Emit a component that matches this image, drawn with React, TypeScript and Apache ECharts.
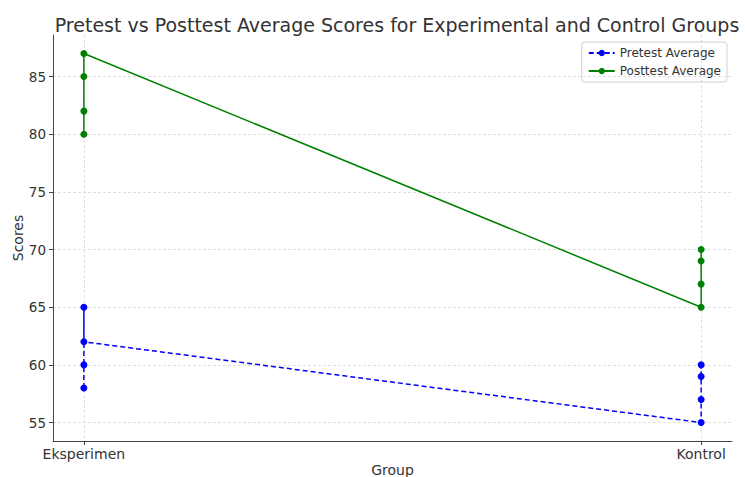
import React, { useEffect, useRef } from "react";
import * as echarts from "echarts";

const categories = ["Eksperimen", "Kontrol"];
const pretestEksperimen = [58, 60, 65, 62];
const pretestKontrol = [55, 57, 59, 60];
const posttestEksperimen = [80, 82, 85, 87];
const posttestKontrol = [65, 67, 69, 70];
const yTicks = [55, 60, 65, 70, 75, 80, 85];

const FONT = "DejaVu Sans";

function toPoints(groups: number[][]) {
  const pts: [number, number][] = [];
  groups.forEach((vals, gi) => vals.forEach((v) => pts.push([gi, v])));
  return pts;
}

export default function App() {
  const ref = useRef<HTMLDivElement>(null);
  useEffect(() => {
    if (!ref.current) return;
    const chart = echarts.init(ref.current, null, { renderer: "svg" });
    const gridLine = { show: true, lineStyle: { color: "#d8d8d8", type: [3, 2], width: 0.8 } };
    chart.setOption({
      animation: false,
      backgroundColor: "#ffffff",
      title: {
        text: "Pretest vs Posttest Average Scores for Experimental and Control Groups",
        left: 392,
        textAlign: "center",
        top: 10,
        textStyle: { fontFamily: FONT, fontSize: 19, fontWeight: "normal", color: "#333" },
      },
      legend: {
        orient: "vertical",
        right: 18,
        top: 42,
        padding: [5, 6, 5, 6],
        itemGap: 6,
        itemWidth: 26,
        itemHeight: 8,
        borderColor: "#d0d0d0",
        borderWidth: 1,
        borderRadius: 3,
        textStyle: { fontFamily: FONT, fontSize: 12, color: "#333" },
        data: ["Pretest Average", "Posttest Average"],
      },
      grid: { left: 53, right: 13, top: 35, bottom: 36, outerBoundsMode: "none", containLabel: false },
      xAxis: {
        type: "value",
        min: -0.05,
        max: 1.05,
        name: "Group",
        nameLocation: "middle",
        nameGap: 22,
        nameMoveOverlap: false,
        nameTextStyle: { fontFamily: FONT, fontSize: 14, color: "#333" },
        axisLine: { show: true, onZero: false, lineStyle: { color: "#444", width: 1 } },
        axisTick: { show: true, customValues: [0, 1], length: 4, lineStyle: { color: "#444" } },
        axisLabel: {
          customValues: [0, 1],
          formatter: (v: number) => categories[Math.round(v)] ?? "",
          fontFamily: FONT,
          fontSize: 14,
          color: "#333",
          margin: 6,
        },
        splitLine: gridLine,
      },
      yAxis: {
        type: "value",
        min: 53.4,
        max: 88.6,
        name: "Scores",
        nameLocation: "middle",
        nameGap: 28,
        nameMoveOverlap: false,
        nameRotate: 90,
        nameTextStyle: { fontFamily: FONT, fontSize: 14, color: "#333" },
        axisLine: { show: true, onZero: false, lineStyle: { color: "#444", width: 1 } },
        axisTick: { show: true, customValues: yTicks, length: 4, lineStyle: { color: "#444" } },
        axisLabel: {
          customValues: yTicks,
          fontFamily: FONT,
          fontSize: 13.5,
          color: "#333",
          margin: 7,
        },
        splitLine: gridLine,
      },
      series: [
        {
          name: "Pretest Average",
          type: "line",
          data: toPoints([pretestEksperimen, pretestKontrol]),
          color: "#0000ff",
          symbol: "circle",
          symbolSize: 7,
          lineStyle: { color: "#0000ff", width: 1.5, type: [5, 3] },
          itemStyle: { color: "#0000ff" },
        },
        {
          name: "Posttest Average",
          type: "line",
          data: toPoints([posttestEksperimen, posttestKontrol]),
          color: "#008000",
          symbol: "circle",
          symbolSize: 7,
          lineStyle: { color: "#008000", width: 1.5 },
          itemStyle: { color: "#008000" },
        },
      ],
    });
    return () => chart.dispose();
  }, []);
  return <div ref={ref} style={{ width: 745, height: 477, position: "absolute", left: 0, top: 0 }} />;
}
